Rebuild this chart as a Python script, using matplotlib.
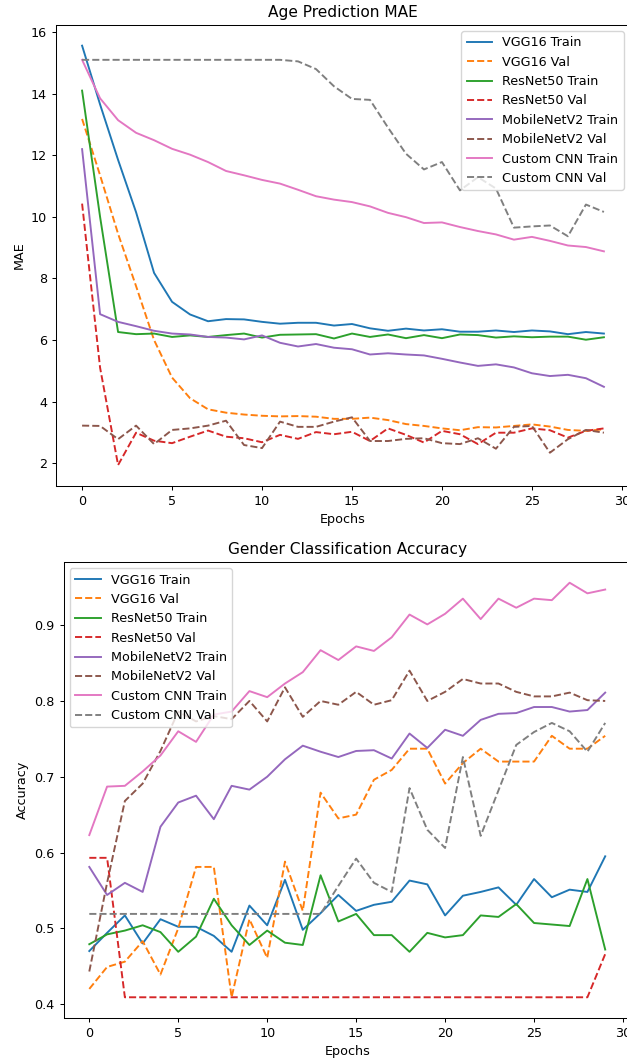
import matplotlib
matplotlib.use("Agg")
import matplotlib.pyplot as plt

epochs = list(range(30))

# Age prediction MAE
vgg16_mae_train = [15.56, 13.65, 11.85, 10.15, 8.18, 7.24, 6.83, 6.61, 6.68, 6.67, 6.59, 6.53, 6.56, 6.56, 6.47,
                   6.52, 6.38, 6.30, 6.37, 6.31, 6.35, 6.27, 6.27, 6.31, 6.26, 6.31, 6.28, 6.19, 6.26, 6.21]
vgg16_mae_val = [13.18, 11.35, 9.45, 7.75, 6.0, 4.78, 4.11, 3.75, 3.64, 3.58, 3.54, 3.52, 3.53, 3.51, 3.44,
                 3.44, 3.48, 3.40, 3.27, 3.21, 3.13, 3.07, 3.17, 3.16, 3.21, 3.26, 3.19, 3.08, 3.05, 3.10]
resnet50_mae_train = [14.1, 10.0, 6.26, 6.19, 6.21, 6.10, 6.15, 6.10, 6.16, 6.21, 6.08, 6.17, 6.18, 6.19, 6.05,
                      6.21, 6.10, 6.18, 6.06, 6.16, 6.06, 6.18, 6.16, 6.08, 6.12, 6.09, 6.11, 6.11, 6.01, 6.09]
resnet50_mae_val = [10.43, 5.1, 1.94, 2.99, 2.73, 2.65, 2.86, 3.06, 2.86, 2.81, 2.68, 2.92, 2.79, 3.01, 2.94,
                    3.02, 2.72, 3.13, 2.92, 2.67, 3.05, 2.94, 2.62, 2.99, 2.99, 3.13, 3.07, 2.83, 3.05, 3.13]
mobilenet_mae_train = [12.2, 6.84, 6.59, 6.45, 6.30, 6.21, 6.18, 6.10, 6.08, 6.02, 6.15, 5.91, 5.79, 5.87, 5.75,
                       5.70, 5.53, 5.57, 5.53, 5.50, 5.39, 5.27, 5.16, 5.21, 5.11, 4.92, 4.83, 4.87, 4.76, 4.48]
mobilenet_mae_val = [3.22, 3.21, 2.78, 3.22, 2.62, 3.08, 3.13, 3.22, 3.38, 2.59, 2.49, 3.35, 3.18, 3.18, 3.35,
                     3.49, 2.72, 2.72, 2.79, 2.81, 2.65, 2.62, 2.81, 2.47, 3.18, 3.21, 2.34, 2.78, 3.08, 2.99]
custom_mae_train = [15.1, 13.85, 13.14, 12.73, 12.49, 12.21, 12.02, 11.78, 11.49, 11.35, 11.2, 11.08, 10.88, 10.67, 10.56,
                    10.48, 10.34, 10.13, 9.99, 9.80, 9.82, 9.67, 9.54, 9.43, 9.26, 9.35, 9.22, 9.07, 9.02, 8.88]
custom_mae_val = [15.1, 15.1, 15.1, 15.1, 15.1, 15.1, 15.1, 15.1, 15.1, 15.1, 15.1, 15.1, 15.05, 14.8, 14.24,
                  13.83, 13.8, 12.9, 12.05, 11.54, 11.78, 10.86, 11.29, 10.92, 9.65, 9.69, 9.72, 9.37, 10.4, 10.16]

# Gender classification accuracy
vgg16_acc_train = [0.470, 0.494, 0.517, 0.480, 0.512, 0.502, 0.502, 0.490, 0.469, 0.530, 0.504, 0.564, 0.498, 0.520, 0.544,
                   0.523, 0.531, 0.535, 0.563, 0.558, 0.517, 0.543, 0.548, 0.554, 0.531, 0.565, 0.541, 0.551, 0.548, 0.595]
vgg16_acc_val = [0.420, 0.449, 0.456, 0.483, 0.439, 0.500, 0.581, 0.581, 0.409, 0.512, 0.461, 0.588, 0.523, 0.679, 0.645,
                 0.650, 0.696, 0.709, 0.737, 0.737, 0.691, 0.718, 0.737, 0.720, 0.720, 0.720, 0.754, 0.737, 0.737, 0.754]
resnet50_acc_train = [0.479, 0.492, 0.497, 0.504, 0.495, 0.469, 0.489, 0.539, 0.504, 0.478, 0.497, 0.481, 0.478, 0.570, 0.509,
                      0.519, 0.491, 0.491, 0.469, 0.494, 0.488, 0.491, 0.517, 0.515, 0.532, 0.507, 0.505, 0.503, 0.565, 0.472]
resnet50_acc_val = [0.593, 0.593, 0.409, 0.409, 0.409, 0.409, 0.409, 0.409, 0.409, 0.409, 0.409, 0.409, 0.409, 0.409, 0.409,
                    0.409, 0.409, 0.409, 0.409, 0.409, 0.409, 0.409, 0.409, 0.409, 0.409, 0.409, 0.409, 0.409, 0.409, 0.466]
mobilenet_acc_train = [0.581, 0.544, 0.560, 0.548, 0.634, 0.666, 0.675, 0.644, 0.688, 0.683, 0.700, 0.723, 0.741, 0.733, 0.726,
                       0.734, 0.735, 0.724, 0.757, 0.738, 0.762, 0.754, 0.775, 0.783, 0.784, 0.792, 0.792, 0.786, 0.788, 0.811]
mobilenet_acc_val = [0.443, 0.56, 0.668, 0.691, 0.734, 0.786, 0.773, 0.78, 0.776, 0.800, 0.773, 0.818, 0.779, 0.800, 0.795,
                     0.812, 0.795, 0.801, 0.840, 0.800, 0.812, 0.829, 0.823, 0.823, 0.812, 0.806, 0.806, 0.811, 0.801, 0.800]
custom_acc_train = [0.623, 0.687, 0.688, 0.707, 0.728, 0.760, 0.746, 0.782, 0.786, 0.813, 0.805, 0.823, 0.838, 0.867, 0.854,
                    0.872, 0.866, 0.884, 0.914, 0.901, 0.915, 0.935, 0.908, 0.935, 0.923, 0.935, 0.933, 0.956, 0.942, 0.947]
custom_acc_val = [0.519, 0.519, 0.519, 0.519, 0.519, 0.519, 0.519, 0.519, 0.519, 0.519, 0.519, 0.519, 0.519, 0.519, 0.556,
                  0.592, 0.560, 0.548, 0.685, 0.630, 0.606, 0.726, 0.622, 0.682, 0.742, 0.759, 0.771, 0.760, 0.733, 0.771]

models = ["VGG16", "ResNet50", "MobileNetV2", "Custom CNN"]
mae_train = [vgg16_mae_train, resnet50_mae_train, mobilenet_mae_train, custom_mae_train]
mae_val = [vgg16_mae_val, resnet50_mae_val, mobilenet_mae_val, custom_mae_val]
acc_train = [vgg16_acc_train, resnet50_acc_train, mobilenet_acc_train, custom_acc_train]
acc_val = [vgg16_acc_val, resnet50_acc_val, mobilenet_acc_val, custom_acc_val]

# the reference looks like a slightly shrunk default render
s = 0.92
plt.rcParams.update({
    "font.size": 10 * s,
    "lines.linewidth": 1.5 * s,
    "axes.linewidth": 0.8 * s,
    "xtick.major.size": 3.5 * s,
    "ytick.major.size": 3.5 * s,
    "xtick.major.width": 0.8 * s,
    "ytick.major.width": 0.8 * s,
    "xtick.major.pad": 3.5 * s,
    "ytick.major.pad": 3.5 * s,
    "axes.titlepad": 6 * s,
    "axes.labelpad": 4 * s,
})

W, H = 627, 1061
fig = plt.figure(figsize=(W / 100, H / 100), dpi=100)
ax1 = fig.add_axes([56 / W, 1 - 486 / H, 574 / W, 461.3 / H])
ax2 = fig.add_axes([63.5 / W, 1 - 1018 / H, 567.5 / W, 456 / H])


def plot_history(ax, train, val, title, ylabel, loc):
    for name, tr, va in zip(models, train, val):
        ax.plot(epochs, tr, label=f"{name} Train")
        ax.plot(epochs, va, "--", label=f"{name} Val")
    ax.set_title(title)
    ax.set_xlabel("Epochs")
    ax.set_ylabel(ylabel)
    ax.legend(loc=loc)


plot_history(ax1, mae_train, mae_val, "Age Prediction MAE", "MAE", "upper right")
plot_history(ax2, acc_train, acc_val, "Gender Classification Accuracy", "Accuracy", "upper left")

fig.savefig("out.png", dpi=100)
